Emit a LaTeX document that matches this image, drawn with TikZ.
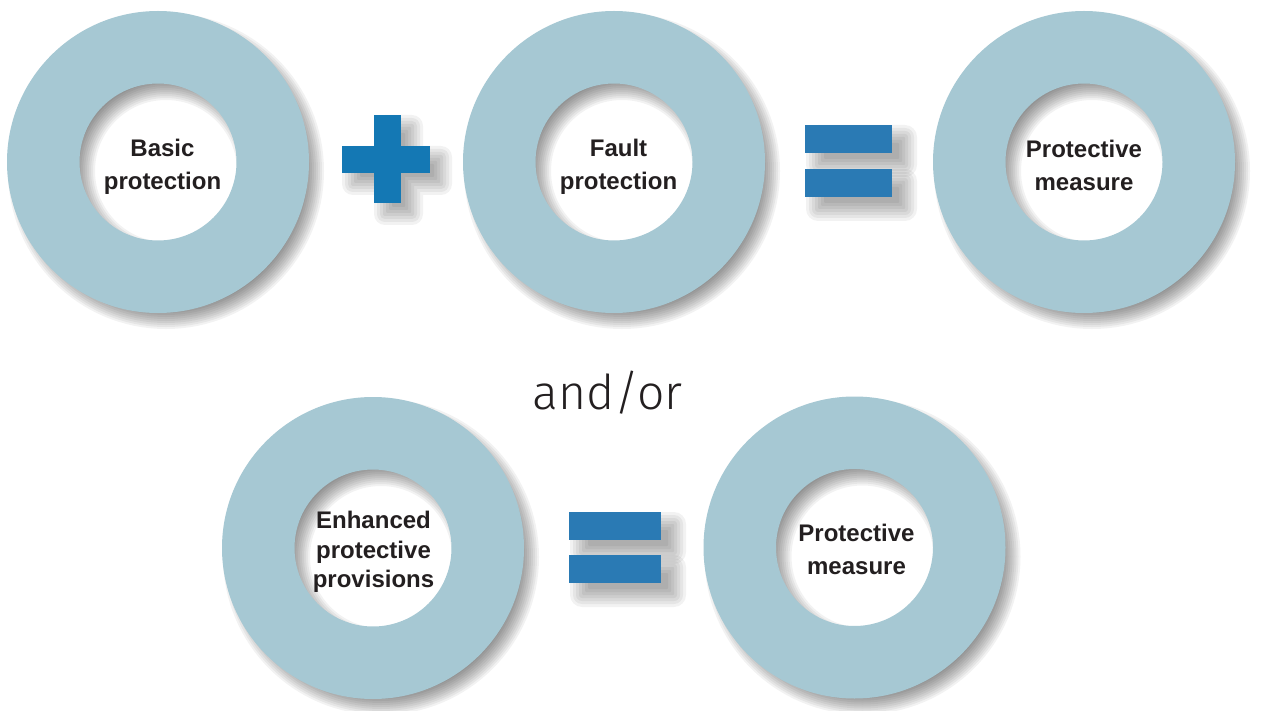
\documentclass[tikz,border=0pt]{standalone}
\usepackage{fontspec}
\setmainfont{Liberation Sans}
\newfontfamily\thinfont{Fira Sans Light}
\usetikzlibrary{calc}
\definecolor{ringc}{HTML}{A6C8D3}
\definecolor{plusc}{HTML}{1478B4}
\definecolor{eqc}{HTML}{2A7AB4}
\definecolor{txtc}{HTML}{231F20}
\newcommand\myringshadow[1]{%
  \foreach \s in {7,5,3,1,-1,-3,-5,-7,-9,-11,-13}{%
    \draw[black, opacity=0.05, line width=73+2*\s] ($(#1)+(8,9)$) circle[radius=114.5];
  }%
}
\tikzset{
  ringfill/.style={fill=ringc, even odd rule},
  ringlabel/.style={font=\bfseries\fontsize{24}{33}\selectfont, text=txtc, align=center, inner sep=0pt},
}
\begin{document}
\begin{tikzpicture}[x=1pt,y=-1pt]
\useasboundingbox (0,0) rectangle (1272,711);
\fill[white] (0,0) rectangle (1272,711);
% ring centres
\coordinate (c1) at (158,162);
\coordinate (c2) at (614,162);
\coordinate (c3) at (1084,162);
\coordinate (c4) at (373,548);
\coordinate (c5) at (854.5,547.5);
% shadows
\foreach \c in {c1,c2,c3,c4,c5}{\myringshadow{\c}}
% plus shadow
\foreach \s in {11,8,5,2,-1,-4,-7}{%
  \fill[black, opacity=0.05, rounded corners={max(1,\s)}]
    (374+11-\s,115+11-\s) rectangle (401+11+\s,203+11+\s)
    (342+11-\s,146+11-\s) rectangle (430+11+\s,173+11+\s);
}
% equals shadows
\foreach \ax/\ay/\bx/\by in {805/125/892/153, 805/169/892/197, 569/512/661/540, 569/555/661/583}{%
  \foreach \s in {12,9,6,3,0,-3,-6}{%
    \fill[black, opacity=0.05, rounded corners={max(1,\s)}]
      (\ax+13-\s,\ay+12-\s) rectangle (\bx+13+\s,\by+12+\s);
  }%
}
% rings
\foreach \c in {c1,c2,c3,c4,c5}{%
  \fill[ringfill] (\c) circle[radius=151] (\c) circle[radius=78.5];
}
% labels
\node[ringlabel] (l1) at (162.5,167) {Basic\\protection};
\node[ringlabel] (l2) at (618.5,167) {Fault\\protection};
\node[ringlabel] (l3) at (1084,165) {Protective\\measure};
\node[ringlabel, font=\bfseries\fontsize{24}{29.5}\selectfont] (l4) at (373.5,552) {Enhanced\\protective\\provisions};
\node[ringlabel] (l5) at (856.5,549) {Protective\\measure};
% plus
\fill[plusc] (374,115) rectangle (401,203);
\fill[plusc] (342,146) rectangle (430,173);
\node[inner sep=0pt, minimum width=88pt, minimum height=88pt] (plus) at (386,159) {};
% equals
\fill[eqc] (805,125) rectangle (892,153);
\fill[eqc] (805,169) rectangle (892,197);
\fill[eqc] (569,512) rectangle (661,540);
\fill[eqc] (569,555) rectangle (661,583);
\node[inner sep=0pt, minimum width=87pt, minimum height=72pt] (eq1) at (848.5,161) {};
\node[inner sep=0pt, minimum width=92pt, minimum height=71pt] (eq2) at (615,547.5) {};
% and/or
\node[font=\thinfont\fontsize{48}{48}\selectfont, text=txtc, anchor=base, inner sep=0pt] (andor) at (607.5,409) {and/or};
\end{tikzpicture}
\end{document}
